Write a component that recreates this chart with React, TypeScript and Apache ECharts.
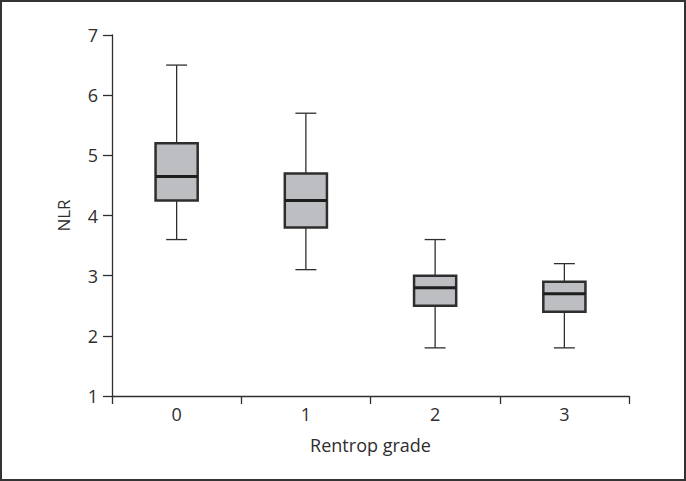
import React, { useEffect, useRef } from "react";
import * as echarts from "echarts";

const categories = ["0", "1", "2", "3"];
// [low whisker, Q1, median, Q3, high whisker]
const boxValues = [
  [3.6, 4.25, 4.65, 5.2, 6.5],
  [3.1, 3.8, 4.25, 4.7, 5.7],
  [1.8, 2.5, 2.8, 3.0, 3.6],
  [1.8, 2.4, 2.7, 2.9, 3.2],
];
const yTicks = { min: 1, max: 7, interval: 1 };

const ink = "#2e2e2e";

export default function App() {
  const ref = useRef<HTMLDivElement>(null);
  useEffect(() => {
    if (!ref.current) return;
    const chart = echarts.init(ref.current, undefined, { renderer: "svg" });
    const data = boxValues.map((v, i) => [i, ...v]);
    chart.setOption({
      animation: false,
      backgroundColor: "#ffffff",
      textStyle: { fontFamily: "Open Sans" },
      grid: { left: 112, right: 57, top: 35, bottom: 85 },
      graphic: [
        {
          type: "rect",
          shape: { x: 1, y: 1, width: 684, height: 479 },
          style: { fill: "none", stroke: "#333", lineWidth: 2 },
          silent: true,
        },
      ],
      xAxis: {
        type: "category",
        data: categories,
        boundaryGap: true,
        name: "Rentrop grade",
        nameLocation: "middle",
        nameGap: 40,
        nameTextStyle: { fontSize: 18, color: ink, fontFamily: "Open Sans" },
        axisLine: { lineStyle: { color: ink, width: 1.3 } },
        axisTick: { show: true, length: 8, lineStyle: { color: ink, width: 1.3 } },
        axisLabel: { fontSize: 18, color: ink, margin: 9, fontFamily: "Open Sans" },
        splitLine: { show: false },
      },
      yAxis: {
        type: "value",
        min: yTicks.min,
        max: yTicks.max,
        interval: yTicks.interval,
        name: "NLR",
        nameLocation: "middle",
        nameGap: 40,
        nameTextStyle: { fontSize: 17, color: ink, fontFamily: "Open Sans" },
        axisLine: { show: true, lineStyle: { color: ink, width: 1.3 } },
        axisTick: { show: true, length: 9, lineStyle: { color: ink, width: 1.3 } },
        axisLabel: { fontSize: 18, color: ink, margin: 14, fontFamily: "Open Sans" },
        splitLine: { show: false },
      },
      series: [
        {
          type: "custom",
          data,
          encode: { x: 0, y: [1, 2, 3, 4, 5] },
          renderItem: (params: any, api: any) => {
            const idx = api.value(0);
            const lo = api.coord([idx, api.value(1)]);
            const q1 = api.coord([idx, api.value(2)]);
            const md = api.coord([idx, api.value(3)]);
            const q3 = api.coord([idx, api.value(4)]);
            const hi = api.coord([idx, api.value(5)]);
            const bw = api.size([1, 0])[0];
            const half = bw * 0.163;
            const cap = bw * 0.081;
            const x = lo[0];
            const thin = { stroke: ink, lineWidth: 1.3 };
            return {
              type: "group",
              children: [
                { type: "line", shape: { x1: x, y1: hi[1], x2: x, y2: q3[1] }, style: thin },
                { type: "line", shape: { x1: x, y1: q1[1], x2: x, y2: lo[1] }, style: thin },
                { type: "line", shape: { x1: x - cap, y1: hi[1], x2: x + cap, y2: hi[1] }, style: thin },
                { type: "line", shape: { x1: x - cap, y1: lo[1], x2: x + cap, y2: lo[1] }, style: thin },
                {
                  type: "rect",
                  shape: { x: x - half, y: q3[1], width: half * 2, height: q1[1] - q3[1] },
                  style: { fill: "#bdbec1", stroke: ink, lineWidth: 2.5 },
                },
                {
                  type: "line",
                  shape: { x1: x - half, y1: md[1], x2: x + half, y2: md[1] },
                  style: { stroke: "#1e1e1e", lineWidth: 3 },
                },
              ],
            };
          },
        },
      ],
    });
    return () => chart.dispose();
  }, []);
  return (
    <div
      ref={ref}
      style={{ position: "absolute", left: 0, top: 0, width: 686, height: 481 }}
    />
  );
}
